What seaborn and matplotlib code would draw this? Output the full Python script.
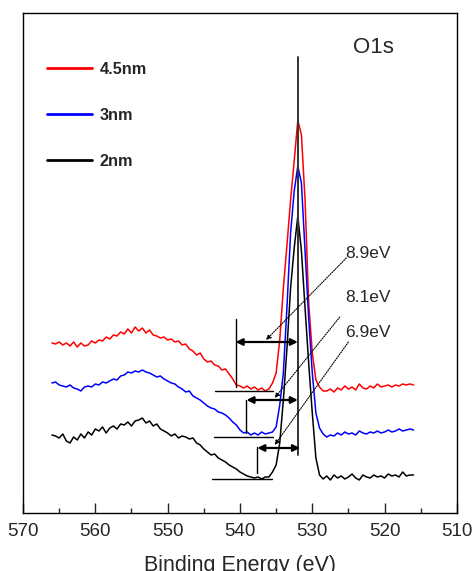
"""
Espectro XPS O1s para tres espesores de capa (4.5nm, 3nm, 2nm)
con las separaciones de pérdida de energía marcadas.
"""

import numpy as np
import pandas as pd
import matplotlib
matplotlib.use('Agg')
import matplotlib.pyplot as plt
import seaborn as sns

# Datos (intensidad en unidades arbitrarias)
energia = np.linspace(566.0, 516.0, 101)  # paso de 0.5 eV

int_45nm = [
    170, 169, 171, 168, 170, 167, 171, 166, 170, 167,
    168, 172, 170, 173, 172, 176, 174, 178, 177, 181,
    179, 184, 180, 186, 182, 185, 180, 183, 178, 177,
    175, 176, 173, 174, 171, 172, 168, 169, 164, 162,
    158, 160, 154, 151, 152, 148, 147, 143, 144, 139,
    134, 128, 127, 125, 127, 124, 126, 123, 125, 122,
    124, 130, 140, 173, 225, 268, 313, 352, 393, 378,
    313, 210, 160, 133, 126, 122, 122, 124, 121, 125,
    123, 127, 124, 126, 123, 129, 125, 124, 127, 125,
    129, 126, 127, 128, 126, 128, 127, 129, 128, 129,
    128,
]
int_3nm = [
    130, 131, 128, 127, 126, 128, 125, 124, 122, 126,
    127, 126, 129, 128, 131, 130, 132, 134, 133, 137,
    138, 141, 140, 142, 141, 143, 141, 140, 138, 136,
    137, 134, 132, 130, 129, 126, 124, 121, 122, 117,
    115, 113, 110, 107, 105, 104, 101, 100, 98, 95,
    91, 88, 83, 80, 81, 78, 80, 78, 81, 79,
    80, 81, 86, 108, 140, 206, 280, 322, 347, 330,
    262, 195, 140, 100, 85, 79, 76, 78, 77, 80,
    78, 81, 79, 80, 78, 82, 80, 79, 81, 80,
    82, 80, 81, 83, 81, 82, 84, 82, 83, 84,
    83,
]
int_2nm = [
    78, 77, 75, 79, 72, 70, 76, 73, 79, 75,
    81, 78, 84, 82, 86, 80, 85, 87, 84, 89,
    88, 91, 87, 92, 93, 95, 90, 92, 87, 89,
    84, 82, 80, 77, 79, 75, 77, 76, 74, 75,
    70, 68, 64, 61, 58, 59, 55, 53, 51, 48,
    46, 44, 41, 39, 37, 36, 35, 36, 34, 36,
    36, 41, 48, 70, 113, 165, 225, 265, 297, 262,
    205, 150, 100, 55, 38, 34, 37, 33, 38, 35,
    37, 34, 36, 39, 35, 33, 38, 36, 35, 38,
    36, 37, 35, 39, 37, 38, 36, 41, 37, 38,
    38,
]

espesores = ['4.5nm', '3nm', '2nm']
colores = {'4.5nm': 'red', '3nm': 'blue', '2nm': 'black'}

# Marcas de separación (energía del borde, altura de la flecha, etc.)
gaps = ['8.9eV', '8.1eV', '6.9eV']
pico_e = 532.0
borde_e = [540.6, 539.1, 537.6]
flecha_fin = [532.0, 532.0, 531.7]
flecha_y = [171, 113, 65]
vert_y = [(126, 194), (80, 113), (40, 66)]
base_y = [122, 76, 34]
base_e = [(543.4, 535.4), (543.6, 535.4), (543.9, 535.6)]
texto_e = 525.4
texto_y = [260, 216, 180]
guia_ini = [(525.3, 255), (526.2, 196), (525.0, 171)]
guia_fin = [(536.4, 173), (535.2, 115), (535.2, 68)]

df = pd.DataFrame({
    'energia': np.concatenate([energia] * 3),
    'intensidad': np.concatenate([int_45nm, int_3nm, int_2nm]),
    'espesor': np.repeat(espesores, len(energia)),
})

sns.set_style('ticks')
plt.rcParams['font.family'] = ['Liberation Sans', 'DejaVu Sans']

fig = plt.figure(figsize=(4.74, 5.71), dpi=100)
ax = fig.add_axes([0.0485, 0.1016, 0.9155, 0.8756])

sns.lineplot(data=df, x='energia', y='intensidad', hue='espesor',
             hue_order=espesores, palette=colores, estimator=None,
             linewidth=1.1, ax=ax)

# Línea vertical en el máximo
ax.plot([pico_e, pico_e], [58, 456], color='#333333', lw=1.4)

for i in range(3):
    ax.plot([borde_e[i], borde_e[i]], vert_y[i], color='black', lw=1.0)
    ax.plot(base_e[i], [base_y[i], base_y[i]], color='black', lw=1.0)
    ax.annotate('', xy=(flecha_fin[i], flecha_y[i]), xytext=(borde_e[i], flecha_y[i]),
                arrowprops=dict(arrowstyle='<|-|>', color='black', lw=1.6,
                                mutation_scale=10, shrinkA=0, shrinkB=0))
    ax.annotate('', xy=guia_fin[i], xytext=guia_ini[i],
                arrowprops=dict(arrowstyle='-|>', color='black', lw=0.8,
                                linestyle=(0, (1, 1.2)), mutation_scale=7,
                                shrinkA=0, shrinkB=0))
    ax.text(texto_e, texto_y[i], gaps[i], fontsize=12.5, ha='left', va='center')

ax.text(524.4, 466, 'O1s', fontsize=16, ha='left', va='center')

ax.set_xlim(570, 510)
ax.set_ylim(0, 500)
ax.set_xticks(np.arange(570, 509, -10))
ax.set_xticks(np.arange(565, 510, -10), minor=True)
ax.set_yticks([])
ax.tick_params(axis='x', which='major', direction='in', length=7, width=1,
               labelsize=13.5, pad=7, top=False)
ax.tick_params(axis='x', which='minor', direction='in', length=3.5, width=1, top=False)
ax.set_xlabel('Binding Energy (eV)', fontsize=15.5, labelpad=11)
ax.set_ylabel('')
for s in ax.spines.values():
    s.set_visible(True)
    s.set_color('black')
    s.set_linewidth(1.0)

leg = ax.legend(frameon=False, loc='upper left', bbox_to_anchor=(0.04, 0.915),
                handlelength=2.77, handletextpad=0.5, labelspacing=1.9,
                prop={'size': 11.7, 'weight': 'bold'}, borderaxespad=0)
for ln in leg.get_lines():
    ln.set_linewidth(2.0)

fig.savefig('out.png', dpi=100)
plt.close(fig)
